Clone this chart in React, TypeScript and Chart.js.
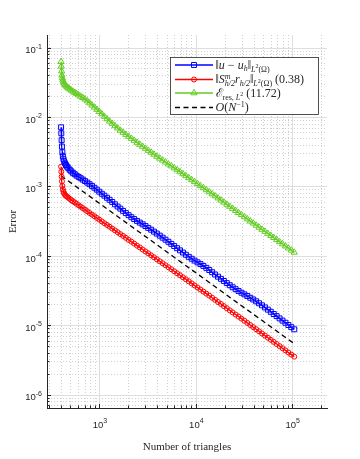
import React, { useEffect, useRef } from "react";
import { Chart, registerables } from "chart.js";

Chart.register(...registerables);

// ---------- data ----------
const triangles = [
  395, 397, 400, 403, 407, 412, 418, 425, 434, 444,
  456, 470, 486, 504, 524, 547, 572, 600, 630, 663,
  699, 738, 780, 826, 875, 928, 985, 1046, 1112, 1183,
  1259, 1341, 1430, 1525, 1627, 1737, 1855, 1982, 2118, 2264,
  2421, 2589, 2770, 2964, 3172, 3396, 3636, 3894, 4171, 4468,
  4787, 5130, 5498, 5893, 6317, 6772, 7260, 7784, 8346, 8949,
  9596, 10290, 11035, 11834, 12691, 13610, 14596, 15654, 16789, 18006,
  19312, 20713, 22216, 23828, 25557, 27412, 29401, 31535, 33824, 36279,
  38912, 41736, 44765, 48014, 51499, 55237, 59246, 63546, 68158, 73105,
  78411, 84102, 90206, 96753, 103775,
];

// ||u - u_h||_{L2}
const errExact = [
  7.2e-3, 5.9e-3, 4.7e-3, 3.8e-3, 3.15e-3, 2.75e-3, 2.5e-3, 2.33e-3, 2.18e-3, 2.06e-3,
  1.95e-3, 1.85e-3, 1.76e-3, 1.67e-3, 1.59e-3, 1.52e-3, 1.45e-3, 1.39e-3, 1.33e-3, 1.27e-3,
  1.21e-3, 1.15e-3, 1.09e-3, 1.03e-3, 9.7e-4, 9.1e-4, 8.5e-4, 7.95e-4, 7.45e-4, 6.95e-4,
  6.5e-4, 6.05e-4, 5.6e-4, 5.2e-4, 4.85e-4, 4.5e-4, 4.18e-4, 3.9e-4, 3.65e-4, 3.43e-4,
  3.23e-4, 3.05e-4, 2.88e-4, 2.72e-4, 2.56e-4, 2.41e-4, 2.26e-4, 2.12e-4, 1.98e-4, 1.85e-4,
  1.73e-4, 1.615e-4, 1.505e-4, 1.4e-4, 1.305e-4, 1.215e-4, 1.13e-4, 1.05e-4, 9.8e-5, 9.2e-5,
  8.65e-5, 8.15e-5, 7.7e-5, 7.25e-5, 6.8e-5, 6.33e-5, 5.88e-5, 5.45e-5, 5.07e-5, 4.72e-5,
  4.4e-5, 4.1e-5, 3.82e-5, 3.57e-5, 3.35e-5, 3.16e-5, 2.98e-5, 2.82e-5, 2.67e-5, 2.52e-5,
  2.38e-5, 2.24e-5, 2.1e-5, 1.96e-5, 1.83e-5, 1.7e-5, 1.58e-5, 1.47e-5, 1.37e-5, 1.27e-5,
  1.18e-5, 1.1e-5, 1.02e-5, 9.5e-6, 8.85e-6,
];

// ||S^m_{h/2} r_{h/2}||_{L2}
const errSm = [
  1.95e-3, 1.65e-3, 1.4e-3, 1.2e-3, 1.03e-3, 9.2e-4, 8.5e-4, 8.0e-4, 7.65e-4, 7.4e-4,
  7.2e-4, 6.95e-4, 6.7e-4, 6.45e-4, 6.2e-4, 5.95e-4, 5.7e-4, 5.43e-4, 5.18e-4, 4.93e-4,
  4.68e-4, 4.44e-4, 4.2e-4, 3.98e-4, 3.77e-4, 3.56e-4, 3.36e-4, 3.17e-4, 2.99e-4, 2.82e-4,
  2.66e-4, 2.5e-4, 2.36e-4, 2.22e-4, 2.08e-4, 1.96e-4, 1.84e-4, 1.72e-4, 1.62e-4, 1.52e-4,
  1.42e-4, 1.34e-4, 1.25e-4, 1.17e-4, 1.1e-4, 1.03e-4, 9.65e-5, 9.03e-5, 8.46e-5, 7.92e-5,
  7.41e-5, 6.94e-5, 6.49e-5, 6.07e-5, 5.68e-5, 5.32e-5, 4.97e-5, 4.65e-5, 4.35e-5, 4.06e-5,
  3.79e-5, 3.54e-5, 3.31e-5, 3.09e-5, 2.89e-5, 2.7e-5, 2.52e-5, 2.35e-5, 2.19e-5, 2.05e-5,
  1.91e-5, 1.78e-5, 1.66e-5, 1.55e-5, 1.445e-5, 1.35e-5, 1.26e-5, 1.175e-5, 1.095e-5, 1.02e-5,
  9.5e-6, 8.87e-6, 8.27e-6, 7.71e-6, 7.19e-6, 6.7e-6, 6.25e-6, 5.83e-6, 5.43e-6, 5.06e-6,
  4.72e-6, 4.4e-6, 4.1e-6, 3.82e-6, 3.57e-6,
];

// E_res,L2
const errRes = [
  6.36e-2, 5.45e-2, 4.65e-2, 4.05e-2, 3.7e-2, 3.45e-2, 3.25e-2, 3.1e-2, 2.95e-2, 2.83e-2,
  2.73e-2, 2.64e-2, 2.55e-2, 2.46e-2, 2.37e-2, 2.28e-2, 2.19e-2, 2.1e-2, 2.01e-2, 1.92e-2,
  1.83e-2, 1.72e-2, 1.61e-2, 1.5e-2, 1.4e-2, 1.3e-2, 1.21e-2, 1.12e-2, 1.03e-2, 9.5e-3,
  8.8e-3, 8.15e-3, 7.55e-3, 7.0e-3, 6.5e-3, 6.06e-3, 5.67e-3, 5.31e-3, 4.97e-3, 4.65e-3,
  4.35e-3, 4.07e-3, 3.81e-3, 3.57e-3, 3.34e-3, 3.13e-3, 2.93e-3, 2.74e-3, 2.57e-3, 2.41e-3,
  2.26e-3, 2.12e-3, 1.99e-3, 1.866e-3, 1.75e-3, 1.64e-3, 1.535e-3, 1.437e-3, 1.345e-3, 1.26e-3,
  1.18e-3, 1.104e-3, 1.032e-3, 9.65e-4, 9.02e-4, 8.43e-4, 7.88e-4, 7.36e-4, 6.87e-4, 6.41e-4,
  5.98e-4, 5.58e-4, 5.21e-4, 4.86e-4, 4.53e-4, 4.23e-4, 3.95e-4, 3.68e-4, 3.43e-4, 3.2e-4,
  2.99e-4, 2.79e-4, 2.6e-4, 2.43e-4, 2.27e-4, 2.12e-4, 1.98e-4, 1.85e-4, 1.725e-4, 1.61e-4,
  1.5e-4, 1.4e-4, 1.305e-4, 1.217e-4, 1.135e-4,
];

// O(N^-1) reference line
const refTriangles = [395, 103775];
const refRate = [1.443e-3, 5.49e-6];

// axes
const xMajorExponents = [3, 4, 5];
const yMajorExponents = [-6, -5, -4, -3, -2, -1];
const xDecades = [2, 3, 4, 5];
const yDecades = [-7, -6, -5, -4, -3, -2, -1];
const mantissas = [1, 2, 3, 4, 5, 6, 7, 8, 9];
const X_MIN = 282;
const X_MAX = 227000;
const Y_MIN = 6.5e-7;
const Y_MAX = 0.154;
const xTitle = "Number of triangles";
const yTitle = "Error";

// legend text (rich segments)
type Seg = { t: string; s: number; it?: boolean; dy?: number; stack?: boolean };
const legendExact: Seg[] = [
  { t: "‖", s: 12 }, { t: "u", s: 12, it: true }, { t: " − ", s: 12 }, { t: "u", s: 12, it: true },
  { t: "h", s: 8, it: true, dy: 2.5 }, { t: "‖", s: 12 }, { t: "L", s: 8, it: true, dy: 3 },
  { t: "2", s: 6, dy: -0.5 }, { t: "(Ω)", s: 8, dy: 3 },
];
const legendSm: Seg[] = [
  { t: "‖", s: 12 }, { t: "S", s: 12, it: true }, { t: "m", s: 8, it: true, dy: -4.5 },
  { t: "h/2", s: 8, it: true, dy: 3, stack: true }, { t: "r", s: 12, it: true },
  { t: "h/2", s: 8, it: true, dy: 3 }, { t: "‖", s: 12 }, { t: "L", s: 8, it: true, dy: 3 },
  { t: "2", s: 6, dy: -0.5 }, { t: "(Ω)", s: 8, dy: 3 }, { t: " (0.38)", s: 12 },
];
const legendRes: Seg[] = [
  { t: "ℰ", s: 12 }, { t: "res, ", s: 8, dy: 3 }, { t: "L", s: 8, it: true, dy: 3 },
  { t: "2", s: 6, dy: -0.5 }, { t: " (11.72)", s: 12 },
];
const legendRate: Seg[] = [
  { t: "O", s: 12, it: true }, { t: "(", s: 12 }, { t: "N", s: 12, it: true },
  { t: "−1", s: 8, dy: -4.5 }, { t: ")", s: 12 },
];

const BLUE = "#0000ff";
const RED = "#ff0000";
const GREEN = "#62cc22";
const BLACK = "#000000";
const AXIS = "#262626";
const SERIF = '"Liberation Serif", "DejaVu Serif", serif';
const SANS = '"Liberation Sans", Arial, sans-serif';

const isPow10 = (v: number) => {
  const l = Math.log10(v);
  return Math.abs(l - Math.round(l)) < 1e-9;
};

const buildTicks = (decades: number[], lo: number, hi: number) => {
  const out: { value: number }[] = [];
  for (const e of decades)
    for (const m of mantissas) {
      const v = m * Math.pow(10, e);
      if (v >= lo * 1.0001 && v <= hi * 0.9999) out.push({ value: v });
    }
  return out;
};

function drawRich(ctx: CanvasRenderingContext2D, x: number, y: number, segs: Seg[]) {
  let cx = x;
  let prevStart = x;
  let prevW = 0;
  for (const g of segs) {
    ctx.font = `${g.it ? "italic " : ""}${g.s}px ${SERIF}`;
    const w = ctx.measureText(g.t).width;
    if (g.stack) {
      ctx.fillText(g.t, prevStart, y + (g.dy || 0));
      cx = prevStart + Math.max(prevW, w);
    } else {
      ctx.fillText(g.t, cx, y + (g.dy || 0));
      prevStart = cx;
      prevW = w;
      cx += w;
    }
  }
}

function drawMarker(ctx: CanvasRenderingContext2D, style: string, x: number, y: number, r: number) {
  ctx.beginPath();
  if (style === "rect") {
    const s = r / Math.SQRT2;
    ctx.rect(x - s, y - s, 2 * s, 2 * s);
  } else if (style === "circle") {
    ctx.arc(x, y, r, 0, Math.PI * 2);
  } else if (style === "triangle") {
    let rad = 0;
    ctx.moveTo(x + Math.sin(rad) * r, y - Math.cos(rad) * r);
    rad += (2 * Math.PI) / 3;
    ctx.lineTo(x + Math.sin(rad) * r, y - Math.cos(rad) * r);
    rad += (2 * Math.PI) / 3;
    ctx.lineTo(x + Math.sin(rad) * r, y - Math.cos(rad) * r);
    ctx.closePath();
  }
  ctx.stroke();
}

const decorPlugin = {
  id: "decor",
  afterDraw(chart: any) {
    const ctx: CanvasRenderingContext2D = chart.ctx;
    const xs = chart.scales.x;
    const ys = chart.scales.y;
    const { left, bottom } = chart.chartArea;
    ctx.save();
    // inward tick marks
    ctx.strokeStyle = AXIS;
    ctx.lineWidth = 1;
    ctx.beginPath();
    for (const t of xs.ticks) {
      const px = Math.round(xs.getPixelForValue(t.value) - 0.5) + 0.5;
      const len = isPow10(t.value) ? 4 : 2.5;
      ctx.moveTo(px, bottom);
      ctx.lineTo(px, bottom - len);
    }
    for (const t of ys.ticks) {
      const py = Math.round(ys.getPixelForValue(t.value) - 0.5) + 0.5;
      const len = isPow10(t.value) ? 4 : 2.5;
      ctx.moveTo(left, py);
      ctx.lineTo(left + len, py);
    }
    ctx.stroke();

    // tick labels 10^n
    ctx.fillStyle = AXIS;
    ctx.textBaseline = "alphabetic";
    ctx.textAlign = "left";
    for (const e of xMajorExponents) {
      const px = xs.getPixelForValue(Math.pow(10, e));
      ctx.font = `9.5px ${SANS}`;
      const w1 = ctx.measureText("10").width;
      ctx.font = `7px ${SANS}`;
      const w2 = ctx.measureText(String(e)).width;
      const x0 = px - (w1 + w2) / 2;
      ctx.font = `9.5px ${SANS}`;
      ctx.fillText("10", x0, 427.5);
      ctx.font = `7px ${SANS}`;
      ctx.fillText(String(e), x0 + w1, 423);
    }
    for (const e of yMajorExponents) {
      const py = ys.getPixelForValue(Math.pow(10, e));
      ctx.font = `9.5px ${SANS}`;
      const w1 = ctx.measureText("10").width;
      ctx.font = `7px ${SANS}`;
      const w2 = ctx.measureText(String(e)).width;
      const xEnd = 42;
      ctx.font = `9.5px ${SANS}`;
      ctx.fillText("10", xEnd - w1 - w2, py + 5.3);
      ctx.font = `7px ${SANS}`;
      ctx.fillText(String(e), xEnd - w2, py + 0.5);
    }

    // legend
    const bx = 170.5, by = 57.5, bw = 148, bh = 57;
    ctx.fillStyle = "#ffffff";
    ctx.fillRect(bx, by, bw, bh);
    ctx.strokeStyle = AXIS;
    ctx.lineWidth = 0.8;
    ctx.strokeRect(bx, by, bw, bh);
    const rows = [
      { y: 65, color: BLUE, marker: "rect", r: 3.5, dash: [] as number[], segs: legendExact },
      { y: 79.5, color: RED, marker: "circle", r: 2.5, dash: [] as number[], segs: legendSm },
      { y: 93, color: GREEN, marker: "triangle", r: 3.6, dash: [] as number[], segs: legendRes },
      { y: 107.5, color: BLACK, marker: "", r: 0, dash: [5, 3.5], segs: legendRate },
    ];
    for (const row of rows) {
      ctx.strokeStyle = row.color;
      ctx.lineWidth = 1.3;
      ctx.setLineDash(row.dash);
      ctx.beginPath();
      ctx.moveTo(175, row.y);
      ctx.lineTo(213, row.y);
      ctx.stroke();
      ctx.setLineDash([]);
      if (row.marker) {
        ctx.lineWidth = 1;
        drawMarker(ctx, row.marker, 194, row.y, row.r);
      }
      ctx.fillStyle = AXIS;
      drawRich(ctx, 215.5, row.y + 3.8, row.segs);
    }
    ctx.restore();
  },
};

const gridColor = (c: any) => {
  if (!c.tick) return "#dcdcdc";
  return isPow10(c.tick.value) ? "#dedede" : "#d0d0d0";
};
const gridDash = (c: any) => {
  if (!c.tick) return [];
  return isPow10(c.tick.value) ? [] : [1, 2];
};

export default function App() {
  const ref = useRef<HTMLCanvasElement>(null);

  useEffect(() => {
    const pts = (xs: number[], ys: number[]) => xs.map((x, i) => ({ x, y: ys[i] }));
    const series = (label: string, data: any, color: string, style: string, r: number) => ({
      label,
      data,
      showLine: true,
      borderColor: color,
      backgroundColor: "rgba(0,0,0,0)",
      borderWidth: 1.3,
      pointStyle: style,
      pointRadius: r,
      pointBorderWidth: 1,
      pointBorderColor: color,
      pointBackgroundColor: "rgba(0,0,0,0)",
      tension: 0,
    });
    const chart = new Chart(ref.current as HTMLCanvasElement, {
      type: "scatter",
      data: {
        datasets: [
          series("‖u − u_h‖", pts(triangles, errExact), BLUE, "rect", 3.5),
          series("‖S r‖ (0.38)", pts(triangles, errSm), RED, "circle", 2.5),
          series("E_res (11.72)", pts(triangles, errRes), GREEN, "triangle", 3.6),
          {
            label: "O(N^-1)",
            data: pts(refTriangles, refRate),
            showLine: true,
            borderColor: BLACK,
            borderWidth: 1.3,
            borderDash: [5, 3.5],
            pointRadius: 0,
            backgroundColor: "rgba(0,0,0,0)",
          },
        ],
      } as any,
      options: {
        animation: false,
        responsive: true,
        maintainAspectRatio: false,
        events: [],
        layout: { padding: { left: 0, right: 33, top: 35, bottom: 0 } },
        plugins: { legend: { display: false }, tooltip: { enabled: false } },
        scales: {
          x: {
            type: "logarithmic",
            position: "bottom",
            min: X_MIN,
            max: X_MAX,
            afterBuildTicks: (s: any) => {
              s.ticks = buildTicks(xDecades, X_MIN, X_MAX);
            },
            afterFit: (s: any) => {
              s.height = 51;
            },
            ticks: { display: false },
            grid: { color: gridColor, lineWidth: 1, drawTicks: false, tickLength: 0 },
            border: { display: true, color: AXIS, width: 1, dash: gridDash },
            title: {
              display: true,
              text: xTitle,
              color: AXIS,
              font: { family: SERIF, size: 11 },
              padding: { top: 0, bottom: 5 },
            },
          },
          y: {
            type: "logarithmic",
            position: "left",
            min: Y_MIN,
            max: Y_MAX,
            afterBuildTicks: (s: any) => {
              s.ticks = buildTicks(yDecades, Y_MIN, Y_MAX);
            },
            afterFit: (s: any) => {
              s.width = 47;
            },
            ticks: { display: false },
            grid: { color: gridColor, lineWidth: 1, drawTicks: false, tickLength: 0 },
            border: { display: true, color: AXIS, width: 1, dash: gridDash },
            title: {
              display: true,
              text: yTitle,
              color: AXIS,
              font: { family: SERIF, size: 11 },
              padding: { top: 7, bottom: 0 },
            },
          },
        },
      } as any,
      plugins: [decorPlugin],
    });
    return () => chart.destroy();
  }, []);

  return (
    <div style={{ position: "fixed", left: 0, top: 0, width: 360, height: 459, background: "#ffffff" }}>
      <canvas ref={ref} />
    </div>
  );
}
